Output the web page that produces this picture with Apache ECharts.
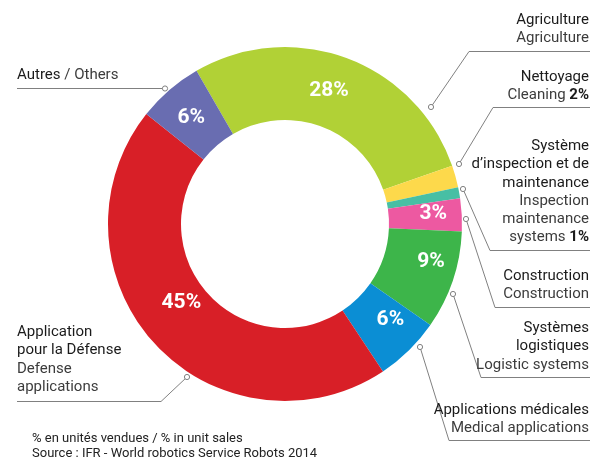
<!DOCTYPE html>
<html>
<head>
<meta charset="utf-8">
<script src="https://cdn.jsdelivr.net/npm/echarts@6/dist/echarts.min.js"></script>
<style>
  html, body { margin: 0; padding: 0; background: #fff; }
  #box1 { width: 598px; height: 463px; }
</style>
</head>
<body>
<div id="box1"></div>
<script>
// service robots, % of unit sales (IFR 2014)
let categories = ['Agriculture', 'Nettoyage', 'Inspection', 'Construction', 'Logistique', 'Médical', 'Défense', 'Autres'];
let shares = [28, 2, 1, 3, 9, 6, 45, 6];
let labelsFr = [
    ['Agriculture'],
    ['Nettoyage'],
    ['Système', 'd’inspection et de', 'maintenance'],
    ['Construction'],
    ['Systèmes', 'logistiques'],
    ['Applications médicales'],
    ['Application', 'pour la Défense'],
    ['Autres']
];
let labelsEn = [
    ['Agriculture'],
    ['Cleaning'],
    ['Inspection', 'maintenance', 'systems'],
    ['Construction'],
    ['Logistic systems'],
    ['Medical applications'],
    ['Defense', 'applications'],
    ['Others']
];
// slices too thin to hold their own percentage get it in the callout
let pctInCallout = ['Nettoyage', 'Inspection'];

let colors = ['#b1d136', '#fdd94b', '#47bfa4', '#ed59a1', '#3db54a', '#0b8ed4', '#d81f27', '#696db1'];
let font = 'Roboto, "Liberation Sans", sans-serif';
let lineColor = '#808080';

// nudges for the percentages inside the ring
let innerNudge = [[-6, 1], [0, 0], [0, 0], [5, -3], [10, -8], [5, -7], [2, -18], [0, 2]];

// callout placement: text anchor and leader line (dot -> elbow -> end)
let callouts = [
    { x: 589, y: 11, align: 'right', pts: [[431, 107], [469, 51.5], [590, 51.5]] },
    { x: 589, y: 68, align: 'right', pts: [[459, 164], [493, 107.5], [590, 107.5]] },
    { x: 589, y: 137, align: 'right', pts: [[463, 189], [490, 250.5], [590, 250.5]] },
    { x: 589, y: 267, align: 'right', pts: [[466, 219], [495, 307.5], [590, 307.5]] },
    { x: 589, y: 319, align: 'right', pts: [[453, 294], [481, 377.5], [590, 377.5]] },
    { x: 589, y: 401, align: 'right', pts: [[420, 347], [449, 440.5], [590, 440.5]] },
    { x: 17, y: 323, align: 'left', pts: [[187, 377], [161, 401.5], [17, 401.5]] },
    { x: 17, y: 66, align: 'left', pts: [[165, 88.5], [165, 88.5], [17, 88.5]] }
];

function calloutText(i) {
    let fr = labelsFr[i].map(s => '{fr|' + s + '}');
    let en = labelsEn[i].map(s => '{en|' + s + '}');
    if (pctInCallout.indexOf(categories[i]) >= 0) {
        en[en.length - 1] += '{en| }{b|' + shares[i] + '%}';
    }
    if (categories[i] === 'Autres') {
        return fr[0] + '{en| / ' + labelsEn[i][0] + '}';
    }
    return fr.concat(en).join('\n');
}

let box1 = document.querySelector('#box1');
let myChart1 = echarts.init(box1);

let pieData = shares.map((v, i) => ({ value: v, name: categories[i] }));

let option1 = {
    color: colors,
    animation: false,
    title: {
        text: '% en unités vendues / % in unit sales\nSource : IFR - World robotics Service Robots 2014',
        left: 32,
        top: 431,
        padding: 0,
        textStyle: {
            fontFamily: font,
            fontSize: 13,
            fontWeight: 'normal',
            color: '#222',
            lineHeight: 15
        }
    },
    graphic: callouts.map(c => ({
        type: 'circle',
        shape: { cx: c.pts[0][0], cy: c.pts[0][1], r: 2.6 },
        style: { fill: '#fff', stroke: lineColor, lineWidth: 1 },
        z: 10
    })),
    series: [
        {
            type: 'pie',
            center: [285, 224],
            radius: [104, 177],
            startAngle: 120,
            clockwise: true,
            avoidLabelOverlap: false,
            silent: true,
            label: {
                show: true,
                position: 'inside',
                formatter: p => pctInCallout.indexOf(p.name) >= 0 ? '' : p.value + '%',
                color: '#fff',
                fontFamily: font,
                fontWeight: 'bold',
                fontSize: 21
            },
            labelLine: { show: false },
            labelLayout: function (params) {
                let n = innerNudge[params.dataIndex];
                return { dx: n[0], dy: n[1] };
            },
            data: pieData
        },
        {
            // invisible copy carrying the outside callouts
            type: 'pie',
            center: [285, 224],
            radius: [104, 177],
            startAngle: 120,
            clockwise: true,
            avoidLabelOverlap: false,
            silent: true,
            itemStyle: { color: 'rgba(0,0,0,0)' },
            label: {
                show: true,
                position: 'outside',
                formatter: p => calloutText(p.dataIndex),
                rich: {
                    fr: { fontFamily: font, fontSize: 15, color: '#1b1b1b', lineHeight: 18.3 },
                    en: { fontFamily: font, fontSize: 15, color: '#3c3c3c', lineHeight: 18.3 },
                    b: { fontFamily: font, fontSize: 15, color: '#1b1b1b', fontWeight: 'bold', lineHeight: 18.3 }
                }
            },
            labelLine: {
                show: true,
                lineStyle: { color: lineColor, width: 1 }
            },
            labelLayout: function (params) {
                let c = callouts[params.dataIndex];
                return {
                    x: c.x,
                    y: c.y,
                    align: c.align,
                    verticalAlign: 'top',
                    labelLinePoints: c.pts
                };
            },
            data: pieData
        }
    ]
};
myChart1.setOption(option1);
</script>
</body>
</html>
